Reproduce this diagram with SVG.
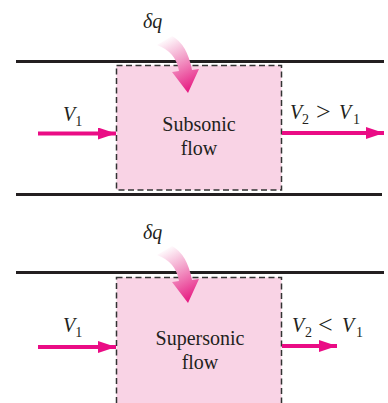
<svg xmlns="http://www.w3.org/2000/svg" width="388" height="403" viewBox="0 0 388 403">
<style>
.wall{stroke:#231F20;stroke-width:3;fill:none}
.box{fill:#F9D3E5;stroke:#333;stroke-width:1.5;stroke-dasharray:6 3.5}
.flow{stroke:#EA0C85;stroke-width:4;fill:none}
.lbl{font-family:"Liberation Serif",serif;font-size:20px;fill:#231F20}
.it{font-style:italic}
.sub{font-size:14px;font-style:normal}
.op{font-size:26px;font-style:normal}
</style>
<defs>
<marker id="ah" markerWidth="18" markerHeight="12" refX="18" refY="6" orient="auto" markerUnits="userSpaceOnUse">
<path d="M0,0 L18,6 L0,12 Z" fill="#EA0C85"/>
</marker>
<linearGradient id="hg" gradientUnits="userSpaceOnUse" x1="162" y1="40" x2="190" y2="92">
<stop offset="0" stop-color="#FFFFFF"/>
<stop offset="0.45" stop-color="#F29AC6"/>
<stop offset="1" stop-color="#E6157F"/>
</linearGradient>
<path id="heat" d="M157,45 Q176,52 179,71 L172,72 L188,93 L199,69 L192,70 Q187,44 172,36 Z" fill="url(#hg)"/>
</defs>
<g id="walls">
<line class="wall" x1="16" y1="61.5" x2="384" y2="61.5"/>
<line class="wall" x1="16" y1="194.5" x2="382" y2="194.5"/>
<line class="wall" x1="16" y1="272.5" x2="384" y2="272.5"/>
</g>
<g id="subsonic-box">
<rect class="box" x="116.5" y="65.5" width="165" height="124.5"/>
<text class="lbl" x="199" y="131" text-anchor="middle">Subsonic</text>
<text class="lbl" x="199" y="155" text-anchor="middle">flow</text>
</g>
<g id="supersonic-box">
<rect class="box" x="116.5" y="277.5" width="165" height="140"/>
<text class="lbl" x="200" y="345" text-anchor="middle">Supersonic</text>
<text class="lbl" x="200" y="369" text-anchor="middle">flow</text>
</g>
<g id="heat-top">
<use href="#heat"/>
<text class="lbl it" x="143" y="28">δq</text>
</g>
<g id="heat-bottom">
<use href="#heat" transform="translate(0,210)"/>
<text class="lbl it" x="143" y="239">δq</text>
</g>
<g id="connectors">
<line class="flow" x1="38" y1="133.5" x2="116" y2="133.5" marker-end="url(#ah)"/>
<line class="flow" x1="282" y1="133" x2="384" y2="133" marker-end="url(#ah)"/>
<line class="flow" x1="38" y1="347" x2="116" y2="347" marker-end="url(#ah)"/>
<line class="flow" x1="282" y1="346" x2="337" y2="346" marker-end="url(#ah)"/>
</g>
<g id="labels">
<text class="lbl it" x="63" y="121">V<tspan class="sub" dy="5">1</tspan></text>
<text class="lbl"><tspan class="it" x="290" y="119">V</tspan><tspan class="sub" x="302" y="124">2</tspan><tspan class="op" x="316" y="120">&gt;</tspan><tspan class="it" x="339" y="119">V</tspan><tspan class="sub" x="353" y="124">1</tspan></text>
<text class="lbl it" x="63" y="332">V<tspan class="sub" dy="5">1</tspan></text>
<text class="lbl"><tspan class="it" x="292" y="332">V</tspan><tspan class="sub" x="305" y="337">2</tspan><tspan class="op" x="318" y="333">&lt;</tspan><tspan class="it" x="342" y="332">V</tspan><tspan class="sub" x="356" y="337">1</tspan></text>
</g>
</svg>
